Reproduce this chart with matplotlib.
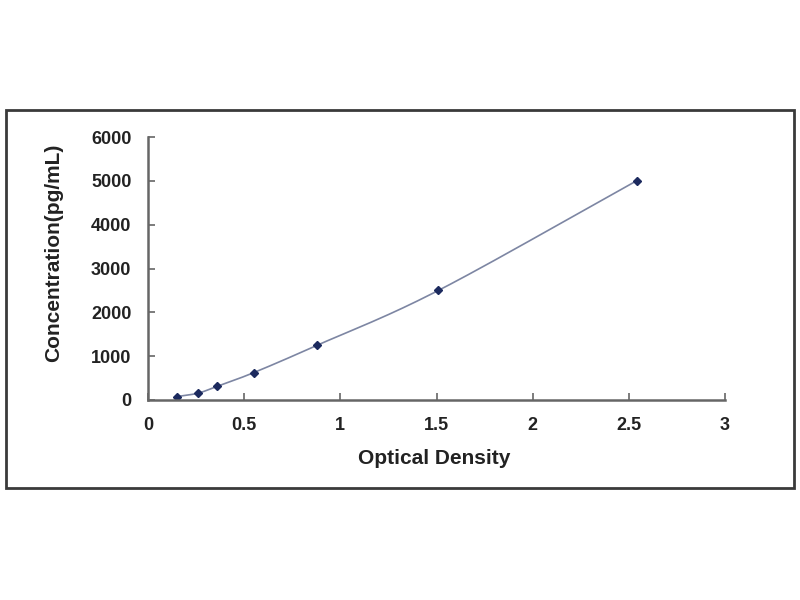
import numpy as np
import matplotlib
matplotlib.use("Agg")
import matplotlib.pyplot as plt
from matplotlib.patches import Rectangle

# Data
od = [0.15, 0.26, 0.36, 0.55, 0.88, 1.51, 2.54]
conc = [78, 156, 312, 625, 1250, 2500, 5000]
xticks = [0, 0.5, 1, 1.5, 2, 2.5, 3]
xticklabels = ["0", "0.5", "1", "1.5", "2", "2.5", "3"]
yticks = [0, 1000, 2000, 3000, 4000, 5000, 6000]
yticklabels = ["0", "1000", "2000", "3000", "4000", "5000", "6000"]


def catmull_rom(xs, ys, n=30):
    xs = np.asarray(xs, float)
    ys = np.asarray(ys, float)
    px = np.concatenate([[2 * xs[0] - xs[1]], xs, [2 * xs[-1] - xs[-2]]])
    py = np.concatenate([[2 * ys[0] - ys[1]], ys, [2 * ys[-1] - ys[-2]]])
    outx, outy = [], []
    for i in range(1, len(px) - 2):
        t = np.linspace(0, 1, n)
        for arr, out in ((px, outx), (py, outy)):
            p0, p1, p2, p3 = arr[i - 1], arr[i], arr[i + 1], arr[i + 2]
            out.extend(0.5 * ((2 * p1) + (-p0 + p2) * t
                              + (2 * p0 - 5 * p1 + 4 * p2 - p3) * t ** 2
                              + (-p0 + 3 * p1 - 3 * p2 + p3) * t ** 3))
    return np.array(outx), np.array(outy)


plt.rcParams['font.family'] = ['Liberation Sans', 'DejaVu Sans']
fig = plt.figure(figsize=(8, 6), dpi=100)
fig.patch.set_facecolor("white")

# outer border
fig.add_artist(Rectangle((6 / 800, 1 - 488 / 600), 788 / 800, 378 / 600,
                         transform=fig.transFigure, fill=False,
                         edgecolor="#3a3a3a", linewidth=2))

ax = fig.add_axes([148 / 800, 1 - 400 / 600, (725 - 148) / 800, (400 - 137) / 600])
sx, sy = catmull_rom(od, conc)
ax.plot(sx, sy, color="#7d86a3", linewidth=1.2)
ax.plot(od, conc, linestyle="none", marker="D", markersize=4,
        color="#1c2a5e")

ax.set_xlim(0, 3)
ax.set_ylim(0, 6000)
ax.set_xticks(xticks)
ax.set_xticklabels(xticklabels)
ax.set_yticks(yticks)
ax.set_yticklabels(yticklabels)
for s in ("top", "right"):
    ax.spines[s].set_visible(False)
for s in ("left", "bottom"):
    ax.spines[s].set_color("#666666")
    ax.spines[s].set_linewidth(1.8)
ax.tick_params(direction="in", length=5, width=1.2, color="#666666",
               labelsize=13, pad=12)
for lab in ax.get_xticklabels() + ax.get_yticklabels():
    lab.set_fontweight("bold")
    lab.set_color("#222222")
ax.set_xlabel("Optical Density", fontsize=15, fontweight="bold",
              color="#222222", va="center")
ax.set_ylabel("Concentration(pg/mL)", fontsize=15, fontweight="bold",
              color="#222222", va="center")
ax.xaxis.set_label_coords((434 - 148) / 577, (400 - 458) / 263)
ax.yaxis.set_label_coords((54 - 148) / 577, (400 - 253) / 263)

fig.savefig("out.png", dpi=100, facecolor="white")
